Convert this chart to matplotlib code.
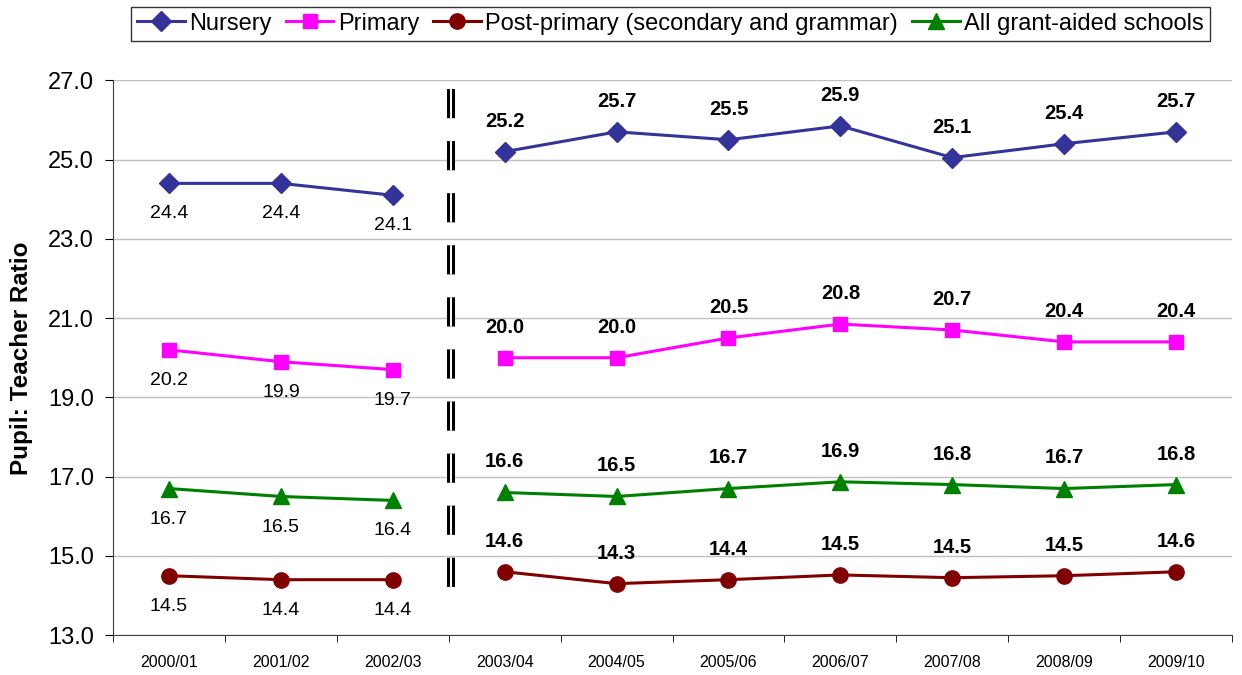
import matplotlib
matplotlib.use("Agg")
import matplotlib.pyplot as plt
import numpy as np

plt.rcParams["font.family"] = ["Liberation Sans", "DejaVu Sans"]
plt.rcParams["lines.scale_dashes"] = False

years = ["2000/01", "2001/02", "2002/03", "2003/04", "2004/05",
         "2005/06", "2006/07", "2007/08", "2008/09", "2009/10"]
nursery = [24.4, 24.4, 24.1, 25.2, 25.7, 25.5, 25.85, 25.05, 25.4, 25.7]
primary = [20.2, 19.9, 19.7, 20.0, 20.0, 20.5, 20.85, 20.7, 20.4, 20.4]
post_primary = [14.5, 14.4, 14.4, 14.6, 14.3, 14.4, 14.52, 14.45, 14.5, 14.6]
all_schools = [16.7, 16.5, 16.4, 16.6, 16.5, 16.7, 16.87, 16.8, 16.7, 16.8]
nursery_lbl = ["24.4", "24.4", "24.1", "25.2", "25.7", "25.5", "25.9", "25.1", "25.4", "25.7"]
primary_lbl = ["20.2", "19.9", "19.7", "20.0", "20.0", "20.5", "20.8", "20.7", "20.4", "20.4"]
post_lbl = ["14.5", "14.4", "14.4", "14.6", "14.3", "14.4", "14.5", "14.5", "14.5", "14.6"]
all_lbl = ["16.7", "16.5", "16.4", "16.6", "16.5", "16.7", "16.9", "16.8", "16.7", "16.8"]

series = [
    ("Nursery", nursery, nursery_lbl, "#333399", "D", 10.5),
    ("Primary", primary, primary_lbl, "#FF00FF", "s", 10.5),
    ("Post-primary (secondary and grammar)", post_primary, post_lbl, "#800000", "o", 11),
    ("All grant-aided schools", all_schools, all_lbl, "#008000", "^", 11),
]

fig = plt.figure(figsize=(12.42, 6.75), dpi=100)
ax = fig.add_axes([0.091, 0.059, 0.901, 0.822])

x = np.arange(len(years))
brk = 3  # break in series between 2002/03 and 2003/04
handles = []
for name, vals, lbls, col, mk, ms in series:
    h, = ax.plot(x[:brk], vals[:brk], color=col, marker=mk, ms=ms, lw=2.2, label=name)
    ax.plot(x[brk:], vals[brk:], color=col, marker=mk, ms=ms, lw=2.2)
    handles.append(h)
    for i in range(len(years)):
        if i < brk:
            ax.annotate(lbls[i], (x[i], vals[i]), xytext=(0, -22), textcoords="offset points",
                        ha="center", va="center", fontsize=14)
        else:
            ax.annotate(lbls[i], (x[i], vals[i]), xytext=(0, 22), textcoords="offset points",
                        ha="center", va="center", fontsize=14.5, fontweight="bold")

# double dashed break line
ax.plot([2.52, 2.52], [26.78, 14.2], color="black", lw=5.8, dashes=(21, 16.5), solid_capstyle="butt")
ax.plot([2.52, 2.52], [26.78, 14.2], color="white", lw=1.4, dashes=(21, 16.5), solid_capstyle="butt")

ax.set_xlim(-0.5, 9.5)
ax.set_ylim(13, 27)
ax.set_yticks(np.arange(13, 27.1, 2))
ax.set_yticklabels(["%.1f" % v for v in np.arange(13, 27.1, 2)], fontsize=17)
ax.set_xticks(x)
ax.set_xticklabels(years, fontsize=11.5)
ax.set_xticks(np.arange(-0.5, 9.6, 1), minor=True)
ax.tick_params(axis="x", which="major", length=0, pad=14)
ax.tick_params(axis="x", which="minor", length=5, direction="out")
ax.tick_params(axis="y", length=5.8, direction="out", pad=8)
ax.yaxis.grid(True, color="#c0c0c0", lw=1)
ax.set_axisbelow(True)
for s in ["top", "right"]:
    ax.spines[s].set_visible(False)
ax.spines["left"].set_color("#404040")
ax.spines["bottom"].set_color("#404040")
ax.set_ylabel("Pupil: Teacher Ratio", fontsize=17.5, fontweight="bold", labelpad=11)

leg = fig.legend(handles=handles, loc="center", bbox_to_anchor=(0.54, 0.965), ncol=4,
                 frameon=True, fancybox=False, edgecolor="black",
                 handlelength=2.0, handletextpad=0.2, columnspacing=0.6,
                 borderpad=0.25, prop={"size": 17})
leg.get_frame().set_linewidth(1.0)

fig.savefig("out.png", dpi=100)
